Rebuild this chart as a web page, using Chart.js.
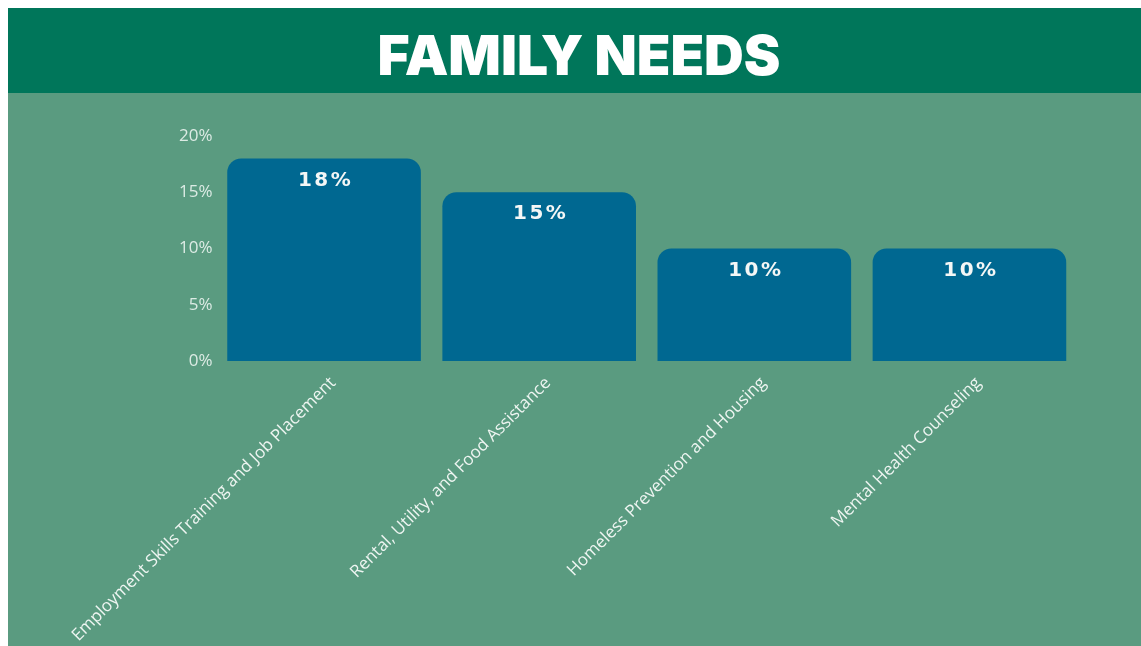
<!DOCTYPE html>
<html>
<head>
<meta charset="utf-8">
<script src="https://cdn.jsdelivr.net/npm/chart.js@4/dist/chart.umd.min.js"></script>
<style>
  html, body { margin: 0; padding: 0; background: #ffffff; }
  #wrap { position: absolute; left: 8px; top: 8px; width: 1133px; height: 638px; }
</style>
</head>
<body>
<div id="wrap"><canvas id="chart"></canvas></div>
<script>
// Survey results: share of families reporting each need
const categories = [
  'Employment Skills Training and Job Placement',
  'Rental, Utility, and Food Assistance',
  'Homeless Prevention and Housing',
  'Mental Health Counseling'
];
const shares = [18, 15, 10, 10];
const valueLabels = ['18%', '15%', '10%', '10%'];
const yTicks = [0, 5, 10, 15, 20];
const titleText = 'FAMILY NEEDS';

const HEADER_H = 85;
const HEADER_COLOR = '#00765a';
const PANEL_COLOR = '#5a9b80';
const BAR_COLOR = '#006891';

// Paints the panel, the header band and the heading
const backdrop = {
  id: 'backdrop',
  beforeDraw(chart) {
    const { ctx, width, height } = chart;
    ctx.save();
    ctx.fillStyle = PANEL_COLOR;
    ctx.fillRect(0, 0, width, height);
    ctx.fillStyle = HEADER_COLOR;
    ctx.fillRect(0, 0, width, HEADER_H);
    ctx.fillStyle = '#ffffff';
    ctx.font = '900 55px Inter';
    ctx.textAlign = 'center';
    ctx.textBaseline = 'alphabetic';
    ctx.fillText(titleText, 571, 67);
    ctx.restore();
  }
};

// Writes each bar's value just inside its top edge
const barValues = {
  id: 'barValues',
  afterDatasetsDraw(chart) {
    const { ctx } = chart;
    const meta = chart.getDatasetMeta(0);
    ctx.save();
    ctx.fillStyle = '#f4f7f6';
    ctx.font = 'bold 20px "DejaVu Sans"';
    ctx.textAlign = 'center';
    ctx.textBaseline = 'middle';
    if ('letterSpacing' in ctx) ctx.letterSpacing = '2.5px';
    meta.data.forEach((bar, i) => {
      ctx.fillText(valueLabels[i], bar.x + 1.5, bar.y + 22);
    });
    ctx.restore();
  }
};

new Chart(document.getElementById('chart'), {
  type: 'bar',
  data: {
    labels: categories,
    datasets: [{
      data: shares,
      backgroundColor: BAR_COLOR,
      borderRadius: { topLeft: 14, topRight: 14, bottomLeft: 0, bottomRight: 0 },
      borderSkipped: 'start',
      barPercentage: 0.9,
      categoryPercentage: 1.0
    }]
  },
  options: {
    responsive: true,
    maintainAspectRatio: false,
    animation: false,
    layout: { padding: { left: 0, right: 64, top: 128, bottom: 0 } },
    plugins: {
      legend: { display: false },
      tooltip: { enabled: false },
      title: { display: false }
    },
    scales: {
      x: {
        grid: { display: false },
        border: { display: false },
        ticks: {
          color: '#eef5f1',
          font: { family: 'Open Sans', size: 17 },
          maxRotation: 45,
          minRotation: 45,
          autoSkip: false,
          labelOffset: 9,
          padding: 4
        },
        afterFit(scale) { scale.height = 285; }
      },
      y: {
        min: 0,
        max: 20,
        grid: { display: false, drawTicks: false, tickLength: 0 },
        border: { display: false },
        afterBuildTicks(scale) {
          scale.ticks = yTicks.map(v => ({ value: v }));
        },
        ticks: {
          color: '#dcebe4',
          font: { family: 'Open Sans', size: 17 },
          padding: 4,
          callback: v => v + '%'
        },
        afterFit(scale) { scale.width = 208.5; }
      }
    }
  },
  plugins: [backdrop, barValues]
});
</script>
</body>
</html>
